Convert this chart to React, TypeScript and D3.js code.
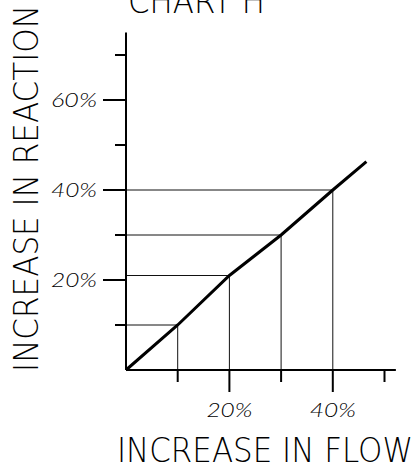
import React from "react";
import * as d3 from "d3";

const flow = [0, 10, 20, 30, 40, 46.5];
const reaction = [0, 10, 21, 30, 40, 46.3];
const guidePoints = [1, 2, 3, 4];
const yTicks = [10, 20, 30, 40, 50, 60, 70];
const yLabelTicks = [20, 40, 60];
const xTicks = [10, 20, 30, 40, 50];
const xLabelTicks = [20, 40];
const title = "CHART H";
const xTitle = "INCREASE IN FLOW";
const yTitle = "INCREASE IN REACTION";

const W = 420;
const H = 467;
const FONT = "'DejaVu Sans', 'Open Sans', sans-serif";
const TICK_FONT = "Lato, 'Open Sans', sans-serif";

export default function App() {
  const x = d3.scaleLinear().domain([0, 50]).range([126, 384.5]);
  const y = d3.scaleLinear().domain([0, 60]).range([370, 100]);
  const xMax = 52.2;
  const yMax = 75;
  const pts = flow.map((f, i) => [f, reaction[i]] as [number, number]);
  const line = d3
    .line<[number, number]>()
    .x((d) => x(d[0]))
    .y((d) => y(d[1]));

  return (
    <svg
      width={W}
      height={H}
      style={{ position: "absolute", left: 0, top: 0, background: "#fff" }}
    >
      {guidePoints.map((i) => (
        <g key={"g" + i}>
          <line
            x1={x(0)}
            x2={x(flow[i])}
            y1={y(reaction[i])}
            y2={y(reaction[i])}
            stroke="#111"
            strokeWidth={1}
          />
          <line
            x1={x(flow[i])}
            x2={x(flow[i])}
            y1={y(0)}
            y2={y(reaction[i])}
            stroke="#111"
            strokeWidth={1}
          />
        </g>
      ))}
      <line x1={x(0)} x2={x(0)} y1={y(0)} y2={y(yMax)} stroke="#000" strokeWidth={2} />
      <line x1={x(0)} x2={x(xMax)} y1={y(0)} y2={y(0)} stroke="#000" strokeWidth={2} />
      {yTicks.map((t) => {
        const major = yLabelTicks.includes(t);
        return (
          <line
            key={"yt" + t}
            x1={x(0) - (major ? 23 : 11)}
            x2={x(0)}
            y1={y(t)}
            y2={y(t)}
            stroke="#000"
            strokeWidth={2}
          />
        );
      })}
      {xTicks.map((t) => {
        const major = xLabelTicks.includes(t);
        return (
          <line
            key={"xt" + t}
            x1={x(t)}
            x2={x(t)}
            y1={y(0)}
            y2={y(0) + (major ? 22 : 12)}
            stroke="#000"
            strokeWidth={2}
          />
        );
      })}
      {yLabelTicks.map((t) => (
        <text
          key={"yl" + t}
          x={97}
          y={y(t) + 7}
          textAnchor="end"
          fontFamily={TICK_FONT}
          fontStyle="italic"
          fontWeight={300}
          fontSize={20}
          textLength={46}
          lengthAdjust="spacingAndGlyphs"
          fill="#000"
        >
          {t}%
        </text>
      ))}
      {xLabelTicks.map((t) => (
        <text
          key={"xl" + t}
          x={x(t) - 23}
          y={417}
          fontFamily={TICK_FONT}
          fontStyle="italic"
          fontWeight={300}
          fontSize={20}
          textLength={46}
          lengthAdjust="spacingAndGlyphs"
          fill="#000"
        >
          {t}%
        </text>
      ))}
      <path d={line(pts) || ""} fill="none" stroke="#000" strokeWidth={3} />
      <text
        x={128}
        y={13}
        fontFamily={FONT}
        fontWeight={200}
        fontSize={34}
        textLength={137}
        lengthAdjust="spacingAndGlyphs"
        fill="#000"
      >
        {title}
      </text>
      <text
        x={117}
        y={462}
        fontFamily={FONT}
        fontWeight={200}
        fontSize={34}
        textLength={296}
        lengthAdjust="spacingAndGlyphs"
        fill="#000"
      >
        {xTitle}
      </text>
      <text
        transform="translate(38,372) rotate(-90)"
        x={0}
        y={0}
        fontFamily={FONT}
        fontWeight={200}
        fontSize={34}
        textLength={367}
        lengthAdjust="spacingAndGlyphs"
        fill="#000"
      >
        {yTitle}
      </text>
    </svg>
  );
}
